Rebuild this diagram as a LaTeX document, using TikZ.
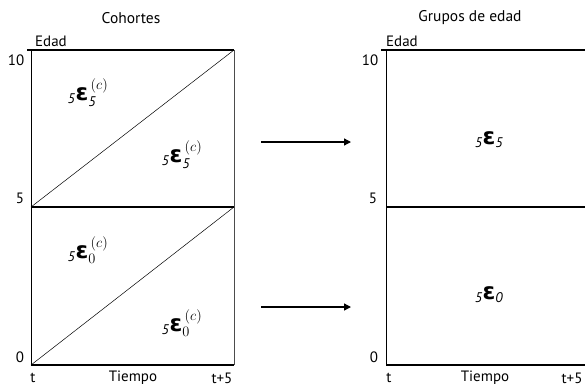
\documentclass[tikz,border=0pt]{standalone}
\usepackage{fontspec}
\setmainfont{PT Sans}
\newfontfamily\epsfont{DejaVu Sans}
\usepackage{amsmath}
\usetikzlibrary{arrows.meta}
\newcommand{\epsg}{\text{\epsfont\bfseries\fontsize{23}{26}\selectfont ε}}
\tikzset{
  axis/.style={line width=1.3pt},
  thin line/.style={line width=0.6pt},
  lbl/.style={font=\fontsize{15}{17}\selectfont, inner sep=0pt},
  ttl/.style={font=\fontsize{15.5}{17}\selectfont, inner sep=0pt},
  eps/.style={font=\fontsize{20}{23}\selectfont, inner sep=0pt},
  arr/.style={line width=1.3pt, -{Triangle[length=7pt,width=7pt]}}
}
\begin{document}
\begin{tikzpicture}[x=1pt,y=-1pt]
\useasboundingbox (0,0) rectangle (585,388);
% left panel
\coordinate (L00) at (31,365);
\coordinate (L05) at (31,207);
\coordinate (L10) at (31,50);
\coordinate (R00) at (234,365);
\coordinate (R05) at (234,207);
\coordinate (R10) at (234,50);
\draw[thin line] (L00) -- (L10);
\draw[thin line, black!70] (R00) -- (R10);
\draw[axis] (27,50) -- (R10);
\draw[axis] (L05) -- (R05);
\draw[axis] (L00) -- (R00);
\draw[line width=0.5pt] (L05) -- (R10);
\draw[line width=0.5pt] (L00) -- (R05);
\node[ttl] (coh) at (131,18) {Cohortes};
\node[lbl] (edadL) at (51,41) {Edad};
\node[lbl] (l10) at (16,60) {10};
\node[lbl] (l5) at (20,198) {5};
\node[lbl] (l0) at (20,357) {0};
\node[lbl] (tL) at (33,378) {t};
\node[lbl] (tiempoL) at (133,378) {Tiempo};
\node[lbl] (t5L) at (222,378) {t+5};
\node[eps] (e1) at (88,93) {$_{\mathit{5}}\epsg_{\mathit{5}}^{\,(c)}$};
\node[eps] (e2) at (182,155) {$_{\mathit{5}}\epsg_{\mathit{5}}^{\,(c)}$};
\node[eps] (e3) at (88,250) {$_{\mathit{5}}\epsg_{0}^{\,(c)}$};
\node[eps] (e4) at (182,323) {$_{\mathit{5}}\epsg_{0}^{\,(c)}$};
% right panel
\coordinate (M00) at (386,365);
\coordinate (M05) at (386,207);
\coordinate (M10) at (386,50);
\draw[thin line] (M00) -- (M10);
\draw[axis] (381,50) -- (585,50);
\draw[axis] (M05) -- (585,207);
\draw[axis] (M00) -- (585,365);
\node[ttl] (grp) at (470,18) {Grupos de edad};
\node[lbl] (edadR) at (402,41) {Edad};
\node[lbl] (r10) at (370,60) {10};
\node[lbl] (r5) at (373,198) {5};
\node[lbl] (r0) at (374,357) {0};
\node[lbl] (tR) at (389,378) {t};
\node[lbl] (tiempoR) at (485,378) {Tiempo};
\node[lbl] (t5R) at (572,378) {t+5};
\node[eps] (g5) at (489,140) {$_{\mathit{5}}\epsg_{\mathit{5}}$};
\node[eps] (g0) at (489,295) {$_{\mathit{5}}\epsg_{\mathit{0}}$};
% arrows
\coordinate (a1s) at (261,142);
\coordinate (a1e) at (351,142);
\coordinate (a2s) at (261,307);
\coordinate (a2e) at (351,307);
\draw[arr] (a1s) -- (a1e);
\draw[arr] (a2s) -- (a2e);
\end{tikzpicture}
\end{document}
